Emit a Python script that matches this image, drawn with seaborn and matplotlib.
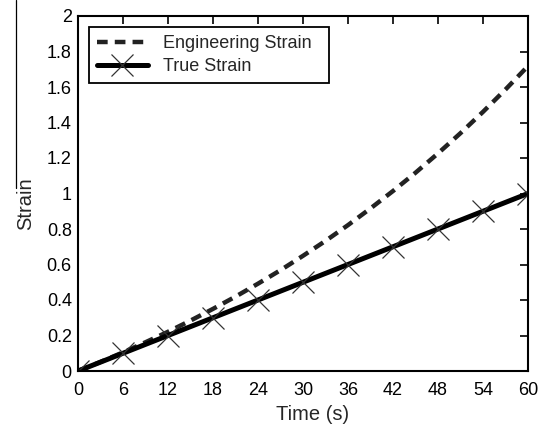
import numpy as np
import pandas as pd
import matplotlib
matplotlib.use("Agg")
import matplotlib.pyplot as plt
import seaborn as sns
from matplotlib.lines import Line2D

# values
time_eng = [0, 3, 6, 9, 12, 15, 18, 21, 24, 27, 30, 33, 36, 39, 42, 45, 48, 51, 54, 57, 60]
eng_strain = [0, 0.051, 0.105, 0.162, 0.221, 0.284, 0.350, 0.419, 0.492, 0.568, 0.649,
              0.733, 0.822, 0.916, 1.014, 1.117, 1.226, 1.340, 1.460, 1.586, 1.718]
time_true = [0, 6, 12, 18, 24, 30, 36, 42, 48, 54, 60]
true_strain = [0, 0.1, 0.2, 0.3, 0.4, 0.5, 0.6, 0.7, 0.8, 0.9, 1.0]
x_ticks = [0, 6, 12, 18, 24, 30, 36, 42, 48, 54, 60]
y_ticks = [0, 0.2, 0.4, 0.6, 0.8, 1, 1.2, 1.4, 1.6, 1.8, 2]
y_tick_labels = ['0', '0.2', '0.4', '0.6', '0.8', '1', '1.2', '1.4', '1.6', '1.8', '2']

eng = pd.DataFrame({'Time': time_eng, 'Strain': eng_strain})
tru = pd.DataFrame({'Time': time_true, 'Strain': true_strain})

sns.set_style('white')
plt.rcParams['font.family'] = ['Liberation Sans', 'DejaVu Sans']

fig = plt.figure(figsize=(5.51, 4.25), dpi=100)
ax = fig.add_axes([78 / 551, 1 - 371 / 425, 450 / 551, 355 / 425])

dash = (0, (2.4, 1.6))
sns.lineplot(data=eng, x='Time', y='Strain', ax=ax, color='#222222',
             linestyle=dash, linewidth=3.2, label='Engineering Strain')
sns.lineplot(data=tru, x='Time', y='Strain', ax=ax, color='black',
             linewidth=3.6, label='True Strain')
ax.plot(time_true, true_strain, linestyle='none', marker='x', markersize=16,
        markeredgewidth=0.9, color='#333333')

ax.set_xlim(0, 60)
ax.set_ylim(0, 2)
ax.set_xticks(x_ticks)
ax.set_yticks(y_ticks)
ax.set_yticklabels(y_tick_labels)
ax.tick_params(direction='in', length=6, width=1.2, top=True, right=True,
               labelsize=13, colors='black')
ax.tick_params(axis='x', pad=8)
ax.tick_params(axis='y', pad=4.5)
for s in ax.spines.values():
    s.set_color('black')
    s.set_linewidth(1.5)

ax.set_xlabel('Time (s)', fontsize=14.5)
ax.set_ylabel('Strain', fontsize=14.5)
ax.xaxis.set_label_coords(0.522, -0.097)
ax.yaxis.set_label_coords(-0.095, 0.472)

handles = [Line2D([], [], color='#222222', linestyle=dash, linewidth=3.2),
           Line2D([], [], color='black', linewidth=3.6, marker='x', markersize=16,
                  markeredgewidth=0.9, markeredgecolor='#333333', markevery=[0, -1])]
leg = ax.legend(handles, ['Engineering Strain', 'True Strain'], loc='upper left',
                bbox_to_anchor=(0.0244, 0.969 - 0.158, 0.533, 0.158), mode='expand',
                fontsize=13, frameon=True, fancybox=False, handlelength=2.8,
                borderaxespad=0, borderpad=0.45, labelspacing=0.32, handletextpad=0.85)
leg.get_frame().set_edgecolor('black')
leg.get_frame().set_linewidth(1.3)
leg.get_frame().set_alpha(1)

# thin scan line at the left edge
fig.add_artist(Line2D([16 / 551, 16 / 551], [1, 1 - 188 / 425], color='black',
                      linewidth=0.9, transform=fig.transFigure))

fig.savefig('out.png', dpi=100)
